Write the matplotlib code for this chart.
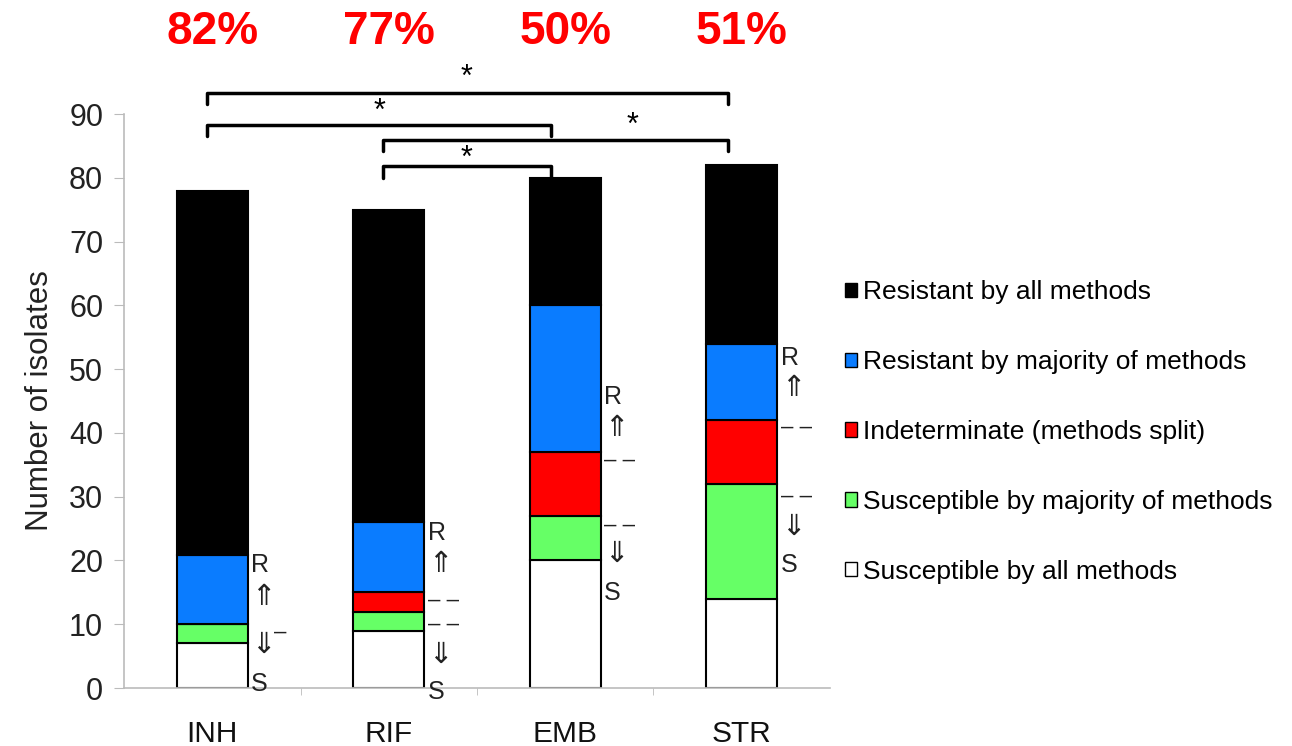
import matplotlib.pyplot as plt
from matplotlib.patches import Patch
import numpy as np

plt.rcParams['font.family'] = ['Liberation Sans', 'DejaVu Sans']

# data
drugs = ['INH', 'RIF', 'EMB', 'STR']
susc_all = [7, 9, 20, 14]
susc_maj = [3, 3, 7, 18]
indet = [0, 3, 10, 10]
res_maj = [10.8, 11, 23, 12]
res_all = [57.2, 49, 20, 28]
pct_labels = ['82%', '77%', '50%', '51%']

series = [susc_all, susc_maj, indet, res_maj, res_all]
names = ['Susceptible by all methods', 'Susceptible by majority of methods',
         'Indeterminate (methods split)', 'Resistant by majority of methods',
         'Resistant by all methods']
colors = ['#ffffff', '#66ff66', '#ff0000', '#0a7cff', '#000000']

# significance brackets: (left bar, right bar, level)
brackets = [(0, 3, 93.3), (0, 2, 88.3), (1, 3, 86.0), (1, 2, 81.8)]
star_x = [1.44, 0.95, 2.38, 1.44]
star_y = [95.6, 90.4, 88.2, 82.9]

# R / S side labels next to each bar: (text, y)
side_marks = [
    [('R', 19.3), ('⇑', 14.2), ('⇓', 6.8), ('S', 0.6)],
    [('R', 24.3), ('⇑', 19.4), ('– –', 13.8), ('– –', 9.9), ('⇓', 5.2), ('S', -0.6)],
    [('R', 45.6), ('⇑', 40.8), ('– –', 35.7), ('– –', 25.5), ('⇓', 21.0), ('S', 14.9)],
    [('R', 51.7), ('⇑', 47.1), ('– –', 40.8), ('– –', 30.1), ('⇓', 25.3), ('S', 19.3)],
]

fig = plt.figure(figsize=(12.92, 7.46), dpi=100)
ax = fig.add_axes([0.096, 0.0777, 0.5464, 0.7694])

x = np.arange(len(drugs))
bottom = np.zeros(len(drugs))
for vals, nm, c in zip(series, names, colors):
    v = np.array(vals, dtype=float)
    ax.bar(x, v, 0.4, bottom=bottom, color=c, edgecolor='black', linewidth=1.5, label=nm)
    bottom += v

ax.set_xlim(-0.5, 3.5)
ax.set_ylim(0, 90)
ax.set_yticks(np.arange(0, 91, 10))
ax.set_xticks(x)
ax.set_xticklabels(drugs)
ax.set_xticks([0.5, 1.5, 2.5], minor=True)
ax.tick_params(axis='x', which='major', length=0, pad=23, labelsize=21.5, labelcolor='#111111')
ax.tick_params(axis='x', which='minor', length=5, color='#bbbbbb', direction='out')
ax.tick_params(axis='y', length=7, color='#bbbbbb', labelsize=22, pad=8, labelcolor='#222222')
for s in ['top', 'right']:
    ax.spines[s].set_visible(False)
for s in ['left', 'bottom']:
    ax.spines[s].set_color('#bbbbbb')
    ax.spines[s].set_linewidth(1.2)
ax.set_ylabel('Number of isolates', fontsize=22.5, labelpad=10, color='#222222')

# side annotations
for i, marks in enumerate(side_marks):
    for t, yv in marks:
        fs = 21 if t in ('⇑', '⇓') else (16 if '–' in t else 18)
        ax.text(i + 0.22, yv, t, fontsize=fs, ha='left', va='center', color='#222222',
                clip_on=False)
ax.text(0 + 0.35, 8.8, '–', fontsize=16, ha='left', va='center', color='#222222')

# brackets
for (a, b, lv), sx, sy in zip(brackets, star_x, star_y):
    xl, xr = a - 0.03, b - 0.08
    ax.plot([xl, xl, xr, xr], [lv - 1.8, lv, lv, lv - 1.8], color='black', lw=2.5,
            clip_on=False, solid_joinstyle='round', solid_capstyle='round')
    ax.text(sx, sy, '*', fontsize=22, ha='center', va='center', clip_on=False)

# percentages on top
for i, p in enumerate(pct_labels):
    ax.text(i, 102.8, p, fontsize=33, fontweight='bold', color='#ff0000',
            ha='center', va='center', clip_on=False)

handles = [Patch(facecolor=c, edgecolor='black', linewidth=1) for c in colors[::-1]]
fig.legend(handles, names[::-1], loc='center left', bbox_to_anchor=(0.654, 0.421),
           frameon=False, fontsize=19, handlelength=0.45, handleheight=0.45,
           handletextpad=0.25, labelspacing=1.74, borderpad=0, borderaxespad=0)

fig.savefig('out.png', dpi=100)
